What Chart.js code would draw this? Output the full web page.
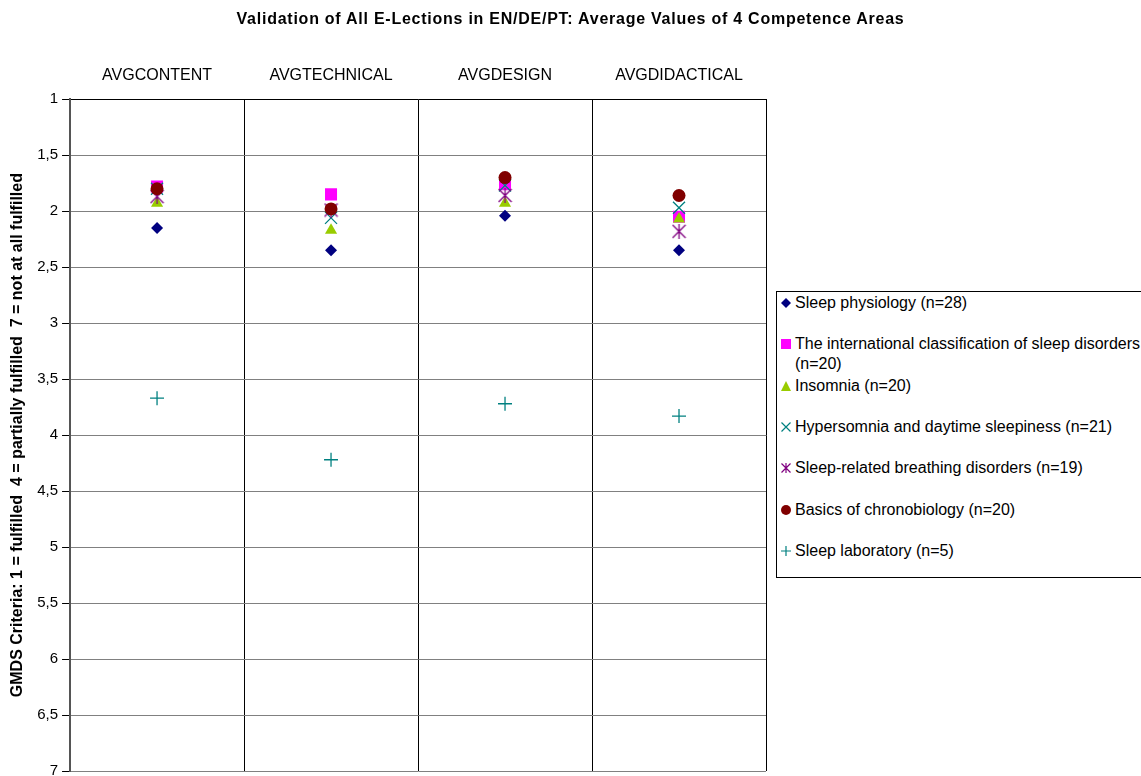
<!DOCTYPE html>
<html>
<head>
<meta charset="utf-8">
<script src="https://cdn.jsdelivr.net/npm/chart.js@4.4.0/dist/chart.umd.min.js"></script>
<style>
  html, body { margin: 0; padding: 0; background: #fff; overflow: hidden; }
  #wrap { position: relative; width: 1141px; height: 776px; overflow: hidden; }
  #title {
    position: absolute; left: 0; top: 10px; width: 1141px; text-align: center;
    font-family: "Liberation Sans", Arial, sans-serif; font-size: 16px; font-weight: bold;
    letter-spacing: 0.75px; color: #000;
  }
  #legend {
    position: absolute; left: 776px; top: 291px; width: 380px; height: 287px;
    border: 1px solid #000; box-sizing: border-box; background: #fff;
    font-family: "Liberation Sans", Arial, sans-serif; font-size: 16px; color: #000;
  }
  .item { position: absolute; left: 0; width: 370px; line-height: 20px; }
  .item svg { position: absolute; left: 4px; top: 5px; }
  .item span { display: block; margin-left: 18px; width: 350px; }
</style>
</head>
<body>
<div id="wrap">
  <canvas id="chart" width="1141" height="784"></canvas>
  <div id="title">Validation of All E-Lections in EN/DE/PT: Average Values of 4 Competence Areas</div>
  <div id="legend"></div>
</div>
<script>
const categories = ["AVGCONTENT", "AVGTECHNICAL", "AVGDESIGN", "AVGDIDACTICAL"];

const seriesNames = [
  "Sleep physiology (n=28)",
  "The international classification of sleep disorders (n=20)",
  "Insomnia (n=20)",
  "Hypersomnia and daytime sleepiness (n=21)",
  "Sleep-related breathing disorders (n=19)",
  "Basics of chronobiology (n=20)",
  "Sleep laboratory (n=5)",
];

// average values per competence area
const sleepPhysiology = [2.15, 2.35, 2.04, 2.35];
const sleepClassification = [1.78, 1.85, 1.76, 2.05];
const insomnia = [1.93, 2.17, 1.93, 2.07];
const hypersomnia = [1.80, 2.06, 1.77, 1.97];
const breathing = [1.87, 1.99, 1.86, 2.18];
const chronobiology = [1.80, 1.98, 1.70, 1.86];
const sleepLab = [3.67, 4.22, 3.72, 3.83];

const yTicks = [1, 1.5, 2, 2.5, 3, 3.5, 4, 4.5, 5, 5.5, 6, 6.5, 7];

const seriesValues = [sleepPhysiology, sleepClassification, insomnia, hypersomnia, breathing, chronobiology, sleepLab];
const seriesColors = ["#000080", "#ff00ff", "#99cc00", "#008080", "#800080", "#800000", "#008080"];
const seriesStyles = ["rectRot", "rect", "triangle", "crossRot", "star", "circle", "cross"];
const seriesRadius = [6, 8.5, 7, 8.5, 7.5, 6.5, 7];

const FONT = "'Liberation Sans', Arial, sans-serif";

// excel style asterisk: an x with a vertical bar
function asteriskCanvas(color, size) {
  const c = document.createElement("canvas");
  c.width = size;
  c.height = size;
  const g = c.getContext("2d");
  g.strokeStyle = color;
  g.lineWidth = 1.3;
  g.beginPath();
  g.moveTo(1, 1); g.lineTo(size - 1, size - 1);
  g.moveTo(size - 1, 1); g.lineTo(1, size - 1);
  g.moveTo(size / 2, 0); g.lineTo(size / 2, size);
  g.stroke();
  return c;
}

const datasets = seriesValues.map((vals, i) => {
  const filled = ["rectRot", "rect", "triangle", "circle"].includes(seriesStyles[i]);
  const style = seriesStyles[i] === "star" ? asteriskCanvas(seriesColors[i], 15) : seriesStyles[i];
  return {
    label: seriesNames[i],
    data: vals,
    showLine: false,
    pointStyle: style,
    pointRadius: seriesRadius[i],
    pointHoverRadius: seriesRadius[i],
    backgroundColor: seriesColors[i],
    borderColor: seriesColors[i],
    pointBorderWidth: filled ? 0 : 1.3,
    order: seriesValues.length - i, // later series on top, like excel
  };
});

new Chart(document.getElementById("chart").getContext("2d"), {
  type: "line",
  data: { labels: categories, datasets: datasets },
  options: {
    responsive: false,
    animation: false,
    layout: { padding: { top: 52, right: 375, bottom: 0, left: 8 } },
    plugins: {
      legend: { display: false },
      tooltip: { enabled: false },
    },
    scales: {
      x: {
        position: "top",
        offset: true,
        grid: { offset: true, color: "#000", lineWidth: 1, drawTicks: false },
        border: { color: "#000" },
        ticks: { color: "#000", font: { family: FONT, size: 16 }, padding: 14 },
      },
      y: {
        reverse: true,
        min: 1,
        max: 7,
        afterBuildTicks: (axis) => { axis.ticks = yTicks.map((v) => ({ value: v })); },
        grid: { color: "#808080", lineWidth: 1, tickLength: 8, tickColor: "#000" },
        border: { color: "#555", width: 2 },
        ticks: {
          color: "#000",
          font: { family: FONT, size: 15 },
          padding: 4,
          callback: (v) => String(v).replace(".", ","),
        },
        title: {
          display: true,
          text: "GMDS Criteria: 1 = fulfilled  4 = partially fulfilled  7 = not at all fulfilled",
          color: "#000",
          font: { family: FONT, size: 16, weight: "bold" },
          padding: { top: 0, bottom: 6 },
        },
      },
    },
  },
});

// legend built from the same arrays
function markerSvg(style, color) {
  const s = 10, c = 5;
  let shape = "";
  if (style === "rectRot") shape = `<polygon points="${c},0 ${s},${c} ${c},${s} 0,${c}" fill="${color}"/>`;
  else if (style === "rect") shape = `<rect x="0" y="0" width="10" height="10" fill="${color}"/>`;
  else if (style === "triangle") shape = `<polygon points="${c},0 ${s},${s} 0,${s}" fill="${color}"/>`;
  else if (style === "circle") shape = `<circle cx="${c}" cy="${c}" r="5" fill="${color}"/>`;
  else if (style === "crossRot") shape = `<path d="M0.5,0.5L9.5,9.5M9.5,0.5L0.5,9.5" stroke="${color}" stroke-width="1.2"/>`;
  else if (style === "cross") shape = `<path d="M5,0V10M0,5H10" stroke="${color}" stroke-width="1.2"/>`;
  else if (style === "star") shape = `<path d="M0.5,0.5L9.5,9.5M9.5,0.5L0.5,9.5M5,0V10" stroke="${color}" stroke-width="1.2"/>`;
  return `<svg width="10" height="10" viewBox="0 0 10 10">${shape}</svg>`;
}

const legendEl = document.getElementById("legend");
seriesNames.forEach((name, i) => {
  const item = document.createElement("div");
  item.className = "item";
  item.style.top = (1 + i * 41.3) + "px";
  item.innerHTML = markerSvg(seriesStyles[i], seriesColors[i]) + `<span>${name}</span>`;
  legendEl.appendChild(item);
});
</script>
</body>
</html>
